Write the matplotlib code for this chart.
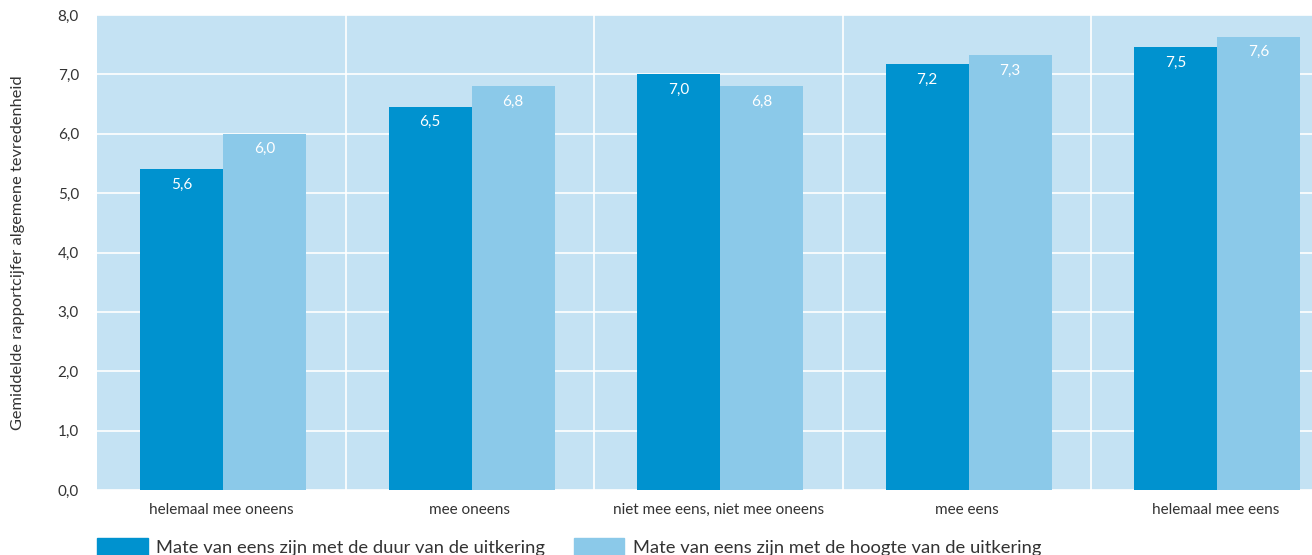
import matplotlib
matplotlib.use("Agg")
import matplotlib.pyplot as plt
from matplotlib.patches import Patch
import numpy as np

plt.rcParams['font.family'] = ['Lato', 'DejaVu Sans']

categories = ['helemaal mee oneens', 'mee oneens', 'niet mee eens, niet mee oneens',
              'mee eens', 'helemaal mee eens']
# bar heights as drawn in the picture
duur = [5.4, 6.45, 7.0, 7.17, 7.46]
hoogte = [6.0, 6.8, 6.8, 7.32, 7.63]
# printed value labels
duur_labels = ['5,6', '6,5', '7,0', '7,2', '7,5']
hoogte_labels = ['6,0', '6,8', '6,8', '7,3', '7,6']
series_names = ['Mate van eens zijn met de duur van de uitkering',
                'Mate van eens zijn met de hoogte van de uitkering']
yticks = [0, 1, 2, 3, 4, 5, 6, 7, 8]

dark = '#0092cf'
light = '#8bc9e9'
bg = '#c4e2f3'
txt = '#333333'

fig = plt.figure(figsize=(13.12, 5.55), dpi=100)
# plot area runs past the right edge of the picture
ax_w = 5 * 248.5
ax = fig.add_axes([97 / 1312, 1 - 490 / 555, ax_w / 1312, (490 - 15) / 555])
ax.set_facecolor(bg)

x = np.arange(len(categories))
w = 0.334
b1 = ax.bar(x - w / 2 + 0.008, duur, w, color=dark, zorder=3)
b2 = ax.bar(x + w / 2 + 0.008, hoogte, w, color=light, zorder=3)

for bars, labels in ((b1, duur_labels), (b2, hoogte_labels)):
    for r, lab in zip(bars, labels):
        ax.annotate(lab, (r.get_x() + r.get_width() / 2, r.get_height()),
                    xytext=(0, -6), textcoords='offset points',
                    ha='center', va='top', color='white', fontsize=11, zorder=4)

ax.set_xlim(-0.5, len(categories) - 0.5)
ax.set_ylim(0, 8)
ax.set_yticks(yticks)
ax.set_yticklabels([f'{v:.1f}'.replace('.', ',') for v in yticks], color=txt, fontsize=11)
ax.set_xticks(x)
ax.set_xticklabels(categories, color=txt, fontsize=11)
ax.tick_params(length=0, axis='y', pad=13)
ax.tick_params(length=0, axis='x', pad=9)

ax.grid(axis='y', color='white', linewidth=1.2, zorder=1)
for sep in np.arange(0.5, len(categories) - 0.5):
    ax.axvline(sep, color='white', linewidth=1.2, zorder=1)
for s in ax.spines.values():
    s.set_visible(False)

ax.set_ylabel('Gemiddelde rapportcijfer algemene tevredenheid', color=txt, fontsize=11.8)
ax.yaxis.set_label_coords(-72 / ax_w, 0.5)

handles = [Patch(color=dark), Patch(color=light)]
fig.legend(handles, series_names, loc='lower left', bbox_to_anchor=(88 / 1312, -0.018),
           ncol=2, frameon=False, fontsize=13.2, handlelength=2.75, handleheight=1.1,
           handletextpad=0.45, columnspacing=1.6, borderpad=0, labelcolor=txt)

fig.savefig('out.png', dpi=100)
